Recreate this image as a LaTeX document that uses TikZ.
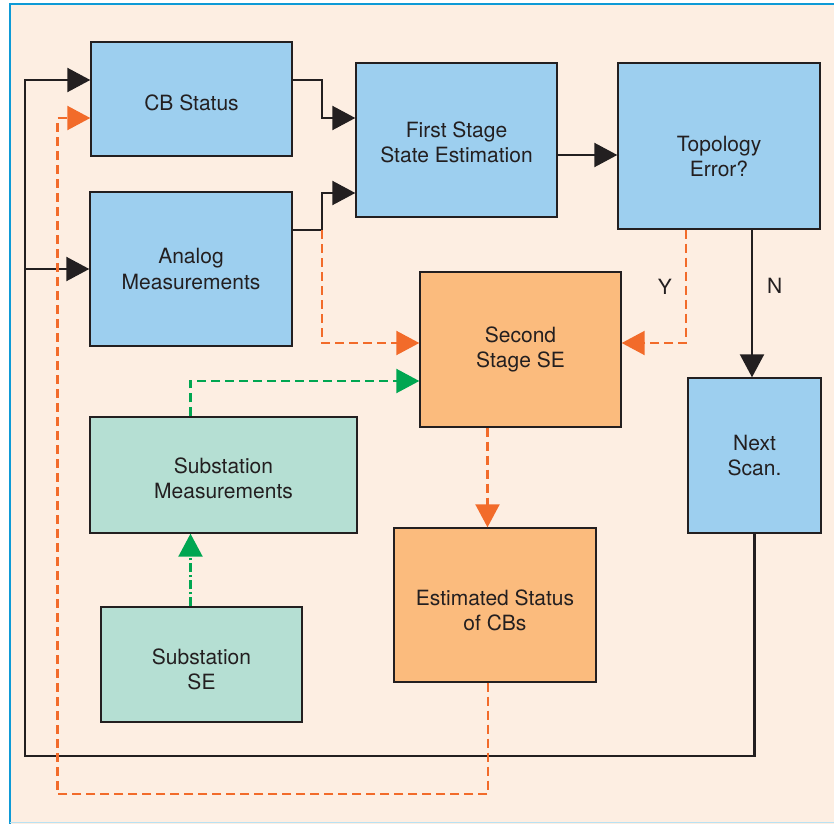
\documentclass[tikz,border=0pt]{standalone}
\usepackage{fontspec}
\setmainfont{TeX Gyre Heros}
\usetikzlibrary{arrows.meta}
\definecolor{paper}{RGB}{253,238,226}
\definecolor{frameblue}{RGB}{14,154,214}
\definecolor{bluebox}{RGB}{157,207,239}
\definecolor{orangebox}{RGB}{251,187,125}
\definecolor{greenbox}{RGB}{181,223,211}
\definecolor{oline}{RGB}{242,107,42}
\definecolor{gline}{RGB}{0,166,81}
\definecolor{txt}{RGB}{35,31,32}
% strut that pushes a box's text down
\newcommand{\dropline}[1]{\rule{0pt}{#1}}
\begin{document}
\begin{tikzpicture}[x=1pt, y=-1pt, line join=miter,
  font=\fontsize{21}{25}\selectfont,
  >={Triangle[length=23pt,width=24pt]}]
  \tikzset{box/.style={draw=txt, line width=1.4pt, align=center, inner sep=0pt, text=txt},
    blue box/.style={box, fill=bluebox},
    orange box/.style={box, fill=orangebox},
    green box/.style={box, fill=greenbox},
    flow/.style={->, line width=2.2pt, txt},
    oflow/.style={->, line width=2.2pt, oline, dash pattern=on 9pt off 5pt},
    gflow/.style={->, line width=2.2pt, gline, dash pattern=on 9pt off 5pt},
    gdash/.style={->, line width=2.2pt, gline, dash pattern=on 9pt off 3pt on 2pt off 3pt},
    lbl/.style={text=txt, inner sep=0pt}}
  % frame
  \useasboundingbox (0,0) rectangle (834,824);
  \fill[paper] (10,5) rectangle (834,824);
  \draw[frameblue, line width=2pt] (834,4.5) -- (10,4.5) -- (10,824);
  \draw[frameblue!30, line width=1.5pt] (10,822.5) -- (834,822.5);
  % boxes
  \node[blue box, minimum width=201pt, minimum height=114pt] (cb) at (191.5,99) {\dropline{24pt}CB Status};
  \node[blue box, minimum width=202pt, minimum height=154pt] (ana) at (191,269) {Analog\\Measurements};
  \node[blue box, minimum width=201pt, minimum height=154pt] (fs) at (456.5,140) {\dropline{19.5pt}First Stage\\State Estimation};
  \node[blue box, minimum width=202pt, minimum height=166pt] (te) at (719,146) {\dropline{35.5pt}Topology\\Error?};
  \node[orange box, minimum width=201pt, minimum height=155pt] (ss) at (520.5,349.5) {Second\\Stage SE};
  \node[blue box, minimum width=133pt, minimum height=155pt] (nxt) at (754.5,455.5) {Next\\Scan.};
  \node[green box, minimum width=267pt, minimum height=116pt] (sm) at (223.5,475) {\dropline{21.5pt}Substation\\Measurements};
  \node[green box, minimum width=201pt, minimum height=115pt] (sse) at (201.5,664.5) {\dropline{25.5pt}Substation\\SE};
  \node[orange box, minimum width=202pt, minimum height=154pt] (es) at (495,605) {\dropline{25.5pt}Estimated Status\\of CBs};
  % corners of the routed lines
  \coordinate (fb) at (25,756);
  \coordinate (cbk) at (322,118);
  \coordinate (ank) at (322,230);
  \coordinate (ob) at (57.5,794);
  % solid flow
  \draw[flow] (nxt.south) |- (fb) |- ([yshift=19pt]cb.west);
  \draw[flow] (fb |- ana.west) -- (ana.west);
  \draw[flow] ([yshift=19pt]cb.east) -| (cbk) -- (cbk -| fs.west);
  \draw[flow] (ank -| ana.east) -- (ank) |- ([yshift=-53pt]fs.west);
  \draw[flow] ([yshift=-15pt]fs.east) -- ([yshift=-15pt]fs.east -| te.west);
  \draw[flow] ([xshift=-2.5pt]nxt.north |- te.south) -- ([xshift=-2.5pt]nxt.north)
    node[lbl, pos=0.38, right=14pt] (no) {N};
  % dashed flow
  \draw[oflow] (ank) |- ([yshift=6.5pt]ss.west);
  \draw[oflow] ([xshift=-33pt]te.south) |- ([yshift=6.5pt]ss.east)
    node[lbl, pos=0.25, left=13pt] (yes) {Y};
  \draw[gflow] ([xshift=-33pt]sm.north) |- ([yshift=-31.5pt]ss.west);
  \draw[gdash] ([xshift=-11pt]sse.north) -- ([xshift=-11pt]sse.north |- sm.south);
  \draw[oflow] ([xshift=-33pt]ss.south) -- ([xshift=-33pt]ss.south |- es.north);
  \draw[oflow] ([xshift=-7pt]es.south) |- (ob) |- ([yshift=-19pt]cb.west);
\end{tikzpicture}
\end{document}
